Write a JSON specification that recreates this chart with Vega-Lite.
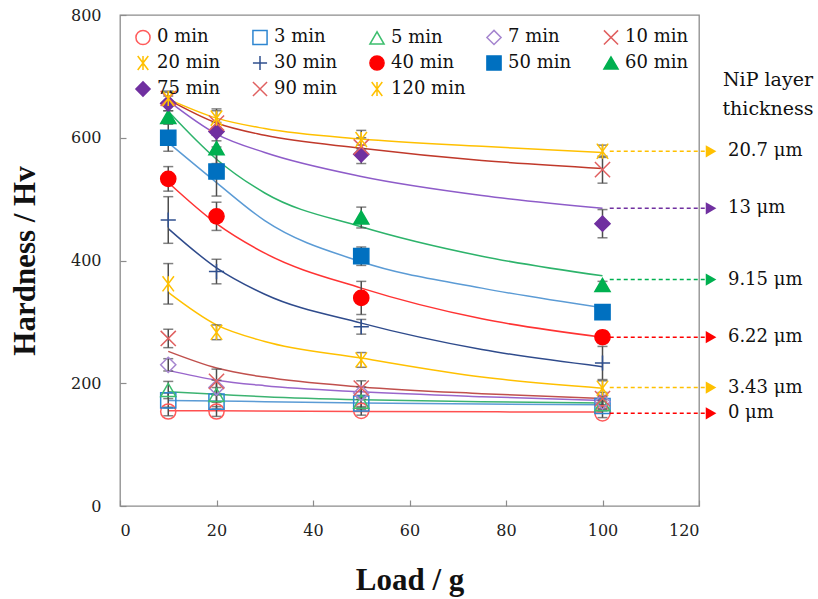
{
  "$schema": "https://vega.github.io/schema/vega-lite/v6.json",
  "width": 579,
  "height": 491,
  "autosize": {"type": "none"},
  "padding": {"left": 120, "top": 15, "right": 119, "bottom": 93},
  "background": "white",
  "config": {
    "font": "DejaVu Serif",
    "view": {"stroke": "#8c8c8c", "strokeWidth": 1.3},
    "axis": {
      "domain": false, "grid": false, "tickColor": "#8c8c8c", "tickSize": -6, "tickWidth": 1.2,
      "labelFont": "DejaVu Serif", "labelFontSize": 16, "labelColor": "#222222",
      "titleFont": "Liberation Serif", "titleFontSize": 31, "titleFontWeight": "bold", "titleColor": "#111111"
    },
    "axisX": {"labelPadding": 22, "titleX": 289.5, "titleY": 74, "titleBaseline": "middle", "titleAlign": "center"},
    "axisY": {"labelPadding": 25, "titleX": -95, "titleY": 245.5, "titleBaseline": "middle", "titleAlign": "center", "titleAngle": -90},
    "legend": {
      "labelFont": "DejaVu Serif", "labelFontSize": 18, "labelColor": "#111111",
      "symbolSize": 200, "symbolStrokeWidth": 1.5, "labelOffset": 5, "padding": 0
    }
  },
  "datasets": {
    "pts": [
      {"s": "0 min", "load": 10, "hv": 154, "lo": 147, "hi": 161},
      {"s": "0 min", "load": 20, "hv": 154, "lo": 146, "hi": 162},
      {"s": "0 min", "load": 50, "hv": 155, "lo": 148, "hi": 162},
      {"s": "0 min", "load": 100, "hv": 151, "lo": 144, "hi": 158},
      {"s": "3 min", "load": 10, "hv": 172, "lo": 160, "hi": 184},
      {"s": "3 min", "load": 20, "hv": 170, "lo": 158, "hi": 182},
      {"s": "3 min", "load": 50, "hv": 167, "lo": 157, "hi": 177},
      {"s": "3 min", "load": 100, "hv": 163, "lo": 155, "hi": 171},
      {"s": "5 min", "load": 10, "hv": 189, "lo": 175, "hi": 203},
      {"s": "5 min", "load": 20, "hv": 181, "lo": 169, "hi": 193},
      {"s": "5 min", "load": 50, "hv": 170, "lo": 160, "hi": 180},
      {"s": "5 min", "load": 100, "hv": 166, "lo": 158, "hi": 174},
      {"s": "7 min", "load": 10, "hv": 230, "lo": 220, "hi": 240},
      {"s": "7 min", "load": 20, "hv": 193, "lo": 181, "hi": 205},
      {"s": "7 min", "load": 50, "hv": 184, "lo": 174, "hi": 194},
      {"s": "7 min", "load": 100, "hv": 170, "lo": 162, "hi": 178},
      {"s": "10 min", "load": 10, "hv": 273, "lo": 258, "hi": 288},
      {"s": "10 min", "load": 20, "hv": 203, "lo": 183, "hi": 223},
      {"s": "10 min", "load": 50, "hv": 192, "lo": 180, "hi": 204},
      {"s": "10 min", "load": 100, "hv": 175, "lo": 165, "hi": 185},
      {"s": "20 min", "load": 10, "hv": 362, "lo": 329, "hi": 395},
      {"s": "20 min", "load": 20, "hv": 283, "lo": 271, "hi": 295},
      {"s": "20 min", "load": 50, "hv": 238, "lo": 226, "hi": 250},
      {"s": "20 min", "load": 100, "hv": 192, "lo": 180, "hi": 204},
      {"s": "30 min", "load": 10, "hv": 466, "lo": 428, "hi": 504},
      {"s": "30 min", "load": 20, "hv": 382, "lo": 362, "hi": 402},
      {"s": "30 min", "load": 50, "hv": 292, "lo": 280, "hi": 304},
      {"s": "30 min", "load": 100, "hv": 233, "lo": 206, "hi": 260},
      {"s": "40 min", "load": 10, "hv": 533, "lo": 513, "hi": 553},
      {"s": "40 min", "load": 20, "hv": 472, "lo": 449, "hi": 495},
      {"s": "40 min", "load": 50, "hv": 339, "lo": 312, "hi": 366},
      {"s": "40 min", "load": 100, "hv": 275, "lo": 265, "hi": 285},
      {"s": "50 min", "load": 10, "hv": 600, "lo": 578, "hi": 622},
      {"s": "50 min", "load": 20, "hv": 545, "lo": 505, "hi": 585},
      {"s": "50 min", "load": 50, "hv": 407, "lo": 392, "hi": 422},
      {"s": "50 min", "load": 100, "hv": 316, "lo": 310, "hi": 322},
      {"s": "60 min", "load": 10, "hv": 634, "lo": 624, "hi": 644},
      {"s": "60 min", "load": 20, "hv": 583, "lo": 558, "hi": 608},
      {"s": "60 min", "load": 50, "hv": 470, "lo": 453, "hi": 487},
      {"s": "60 min", "load": 100, "hv": 360, "lo": 354, "hi": 366},
      {"s": "75 min", "load": 10, "hv": 656, "lo": 644, "hi": 668},
      {"s": "75 min", "load": 20, "hv": 610, "lo": 595, "hi": 625},
      {"s": "75 min", "load": 50, "hv": 573, "lo": 558, "hi": 588},
      {"s": "75 min", "load": 100, "hv": 460, "lo": 437, "hi": 483},
      {"s": "90 min", "load": 10, "hv": 664, "lo": 654, "hi": 674},
      {"s": "90 min", "load": 20, "hv": 624, "lo": 604, "hi": 644},
      {"s": "90 min", "load": 50, "hv": 585, "lo": 570, "hi": 600},
      {"s": "90 min", "load": 100, "hv": 548, "lo": 526, "hi": 570},
      {"s": "120 min", "load": 10, "hv": 664, "lo": 652, "hi": 676},
      {"s": "120 min", "load": 20, "hv": 632, "lo": 617, "hi": 647},
      {"s": "120 min", "load": 50, "hv": 597, "lo": 582, "hi": 612},
      {"s": "120 min", "load": 100, "hv": 578, "lo": 568, "hi": 588}
    ],
    "fit": [
      {"s": "0 min", "load": 10, "hv": 155}, {"s": "0 min", "load": 20, "hv": 155}, {"s": "0 min", "load": 50, "hv": 154}, {"s": "0 min", "load": 100, "hv": 153},
      {"s": "3 min", "load": 10, "hv": 172}, {"s": "3 min", "load": 20, "hv": 171}, {"s": "3 min", "load": 30, "hv": 170}, {"s": "3 min", "load": 50, "hv": 168}, {"s": "3 min", "load": 75, "hv": 166}, {"s": "3 min", "load": 100, "hv": 165},
      {"s": "5 min", "load": 10, "hv": 186}, {"s": "5 min", "load": 20, "hv": 182}, {"s": "5 min", "load": 30, "hv": 178}, {"s": "5 min", "load": 50, "hv": 173}, {"s": "5 min", "load": 75, "hv": 170}, {"s": "5 min", "load": 100, "hv": 168},
      {"s": "7 min", "load": 10, "hv": 221}, {"s": "7 min", "load": 20, "hv": 205}, {"s": "7 min", "load": 30, "hv": 196}, {"s": "7 min", "load": 50, "hv": 186}, {"s": "7 min", "load": 75, "hv": 178}, {"s": "7 min", "load": 100, "hv": 172},
      {"s": "10 min", "load": 10, "hv": 252}, {"s": "10 min", "load": 20, "hv": 225}, {"s": "10 min", "load": 30, "hv": 210}, {"s": "10 min", "load": 50, "hv": 194}, {"s": "10 min", "load": 75, "hv": 183}, {"s": "10 min", "load": 100, "hv": 175},
      {"s": "20 min", "load": 10, "hv": 348}, {"s": "20 min", "load": 20, "hv": 295}, {"s": "20 min", "load": 30, "hv": 268}, {"s": "20 min", "load": 50, "hv": 241}, {"s": "20 min", "load": 75, "hv": 210}, {"s": "20 min", "load": 100, "hv": 192},
      {"s": "30 min", "load": 10, "hv": 452}, {"s": "30 min", "load": 20, "hv": 388}, {"s": "30 min", "load": 30, "hv": 345}, {"s": "30 min", "load": 50, "hv": 298}, {"s": "30 min", "load": 75, "hv": 255}, {"s": "30 min", "load": 100, "hv": 227},
      {"s": "40 min", "load": 10, "hv": 527}, {"s": "40 min", "load": 20, "hv": 460}, {"s": "40 min", "load": 30, "hv": 412}, {"s": "40 min", "load": 50, "hv": 355}, {"s": "40 min", "load": 75, "hv": 305}, {"s": "40 min", "load": 100, "hv": 275},
      {"s": "50 min", "load": 10, "hv": 592}, {"s": "50 min", "load": 20, "hv": 527}, {"s": "50 min", "load": 30, "hv": 465}, {"s": "50 min", "load": 50, "hv": 398}, {"s": "50 min", "load": 75, "hv": 355}, {"s": "50 min", "load": 100, "hv": 323},
      {"s": "60 min", "load": 10, "hv": 643}, {"s": "60 min", "load": 20, "hv": 565}, {"s": "60 min", "load": 30, "hv": 510}, {"s": "60 min", "load": 50, "hv": 455}, {"s": "60 min", "load": 75, "hv": 407}, {"s": "60 min", "load": 100, "hv": 375},
      {"s": "75 min", "load": 10, "hv": 660}, {"s": "75 min", "load": 20, "hv": 606}, {"s": "75 min", "load": 30, "hv": 576}, {"s": "75 min", "load": 50, "hv": 537}, {"s": "75 min", "load": 75, "hv": 506}, {"s": "75 min", "load": 100, "hv": 485},
      {"s": "90 min", "load": 10, "hv": 662}, {"s": "90 min", "load": 20, "hv": 624}, {"s": "90 min", "load": 30, "hv": 604}, {"s": "90 min", "load": 50, "hv": 583}, {"s": "90 min", "load": 75, "hv": 563}, {"s": "90 min", "load": 100, "hv": 550},
      {"s": "120 min", "load": 10, "hv": 663}, {"s": "120 min", "load": 20, "hv": 632}, {"s": "120 min", "load": 30, "hv": 615}, {"s": "120 min", "load": 50, "hv": 598}, {"s": "120 min", "load": 75, "hv": 586}, {"s": "120 min", "load": 100, "hv": 576}
    ],
    "arrows": [
      {"lab": "20.7 μm", "hv": 578, "x0": 101.5, "x1": 122.5, "xt": 126},
      {"lab": "13 μm", "hv": 485, "x0": 101.5, "x1": 122.5, "xt": 126},
      {"lab": "9.15 μm", "hv": 369, "x0": 101.5, "x1": 122.5, "xt": 126},
      {"lab": "6.22 μm", "hv": 275, "x0": 101.5, "x1": 122.5, "xt": 126},
      {"lab": "3.43 μm", "hv": 193, "x0": 101.5, "x1": 122.5, "xt": 126},
      {"lab": "0 μm", "hv": 151, "x0": 101.5, "x1": 122.5, "xt": 126}
    ],
    "head": [
      {"t": "NiP layer", "x": 134.3, "hv": 694},
      {"t": "thickness", "x": 134.3, "hv": 647}
    ]
  },
  "layer": [
    {
      "data": {"name": "fit"},
      "mark": {"type": "line", "interpolate": "monotone", "strokeWidth": 1.5},
      "encoding": {
        "x": {"field": "load", "type": "quantitative", "title": "Load / g", "scale": {"domain": [0, 120]}, "axis": {"values": [0, 20, 40, 60, 80, 100, 120]}},
        "y": {"field": "hv", "type": "quantitative", "title": "Hardness / Hv", "scale": {"domain": [0, 800]}, "axis": {"values": [0, 200, 400, 600, 800]}},
        "color": {
          "field": "s", "type": "nominal", "legend": null,
          "scale": {
            "domain": ["0 min", "3 min", "5 min", "7 min", "10 min", "20 min", "30 min", "40 min", "50 min", "60 min", "75 min", "90 min", "120 min"],
            "range": ["#FF5050", "#5B9BD5", "#3CB371", "#9966CC", "#C0504D", "#FFC000", "#2F4B8C", "#FF3333", "#5B9BD5", "#2DB36B", "#8E5CC9", "#C0392B", "#FFC000"]
          }
        }
      }
    },
    {
      "data": {"name": "pts"},
      "mark": {"type": "errorbar", "ticks": {"size": 10, "color": "#4d4d4d", "thickness": 1.5}, "rule": {"color": "#4d4d4d", "strokeWidth": 1.5}},
      "encoding": {
        "x": {"field": "load", "type": "quantitative", "title": "Load / g"},
        "y": {"field": "lo", "type": "quantitative", "title": "Hardness / Hv"},
        "y2": {"field": "hi"}
      }
    },
    {
      "data": {"name": "pts"},
      "mark": {"type": "point", "filled": true, "size": 230, "strokeWidth": 1.5, "opacity": 1},
      "encoding": {
        "x": {"field": "load", "type": "quantitative", "title": "Load / g"},
        "y": {"field": "hv", "type": "quantitative", "title": "Hardness / Hv"},
        "stroke": {
          "field": "s", "type": "nominal",
          "legend": {"title": null, "orient": "none", "legendX": 14, "legendY": 13, "direction": "horizontal", "columns": 5, "gridAlign": "all", "columnPadding": 17, "rowPadding": 4},
          "scale": {
            "domain": ["0 min", "3 min", "5 min", "7 min", "10 min", "20 min", "30 min", "40 min", "50 min", "60 min", "75 min", "90 min", "120 min"],
            "range": ["#FF5B5B", "#2E86D1", "#3DBE6E", "#A585CF", "#E06060", "#FFC000", "#30508F", "#FF0000", "#0070C0", "#00B050", "#7030A0", "#E06060", "#FFC000"]
          }
        },
        "fill": {
          "field": "s", "type": "nominal",
          "legend": {"title": null, "orient": "none", "legendX": 14, "legendY": 13, "direction": "horizontal", "columns": 5, "gridAlign": "all", "columnPadding": 17, "rowPadding": 4},
          "scale": {
            "domain": ["0 min", "3 min", "5 min", "7 min", "10 min", "20 min", "30 min", "40 min", "50 min", "60 min", "75 min", "90 min", "120 min"],
            "range": ["transparent", "transparent", "transparent", "transparent", "transparent", "transparent", "transparent", "#FF0000", "#0070C0", "#00B050", "#7030A0", "transparent", "transparent"]
          }
        },
        "shape": {
          "field": "s", "type": "nominal",
          "legend": {"title": null, "orient": "none", "legendX": 14, "legendY": 13, "direction": "horizontal", "columns": 5, "gridAlign": "all", "columnPadding": 17, "rowPadding": 4},
          "scale": {
            "domain": ["0 min", "3 min", "5 min", "7 min", "10 min", "20 min", "30 min", "40 min", "50 min", "60 min", "75 min", "90 min", "120 min"],
            "range": ["circle", "square", "triangle-up", "diamond", "M-1,-1L1,1M-1,1L1,-1", "M-0.75,-1L0.75,1M-0.75,1L0.75,-1M0,-1L0,1", "M-1,0L1,0M0,-1L0,1", "circle", "square", "triangle-up", "diamond", "M-1,-1L1,1M-1,1L1,-1", "M-0.75,-1L0.75,1M-0.75,1L0.75,-1M0,-1L0,1"]
          }
        }
      }
    },
    {
      "data": {"name": "arrows"},
      "layer": [
        {
          "mark": {"type": "rule", "strokeDash": [4, 3], "strokeWidth": 1.5},
          "encoding": {
            "x": {"field": "x0", "type": "quantitative", "title": "Load / g"},
            "x2": {"field": "x1"},
            "y": {"field": "hv", "type": "quantitative", "title": "Hardness / Hv"},
            "color": {"field": "lab", "type": "nominal", "legend": null, "scale": {"domain": ["20.7 μm", "13 μm", "9.15 μm", "6.22 μm", "3.43 μm", "0 μm"], "range": ["#FFC000", "#7030A0", "#00B050", "#FF0000", "#FFC000", "#FF0000"]}}
          }
        },
        {
          "mark": {"type": "point", "shape": "triangle-right", "filled": true, "size": 150, "opacity": 1},
          "encoding": {
            "x": {"field": "x1", "type": "quantitative", "title": "Load / g"},
            "y": {"field": "hv", "type": "quantitative", "title": "Hardness / Hv"},
            "color": {"field": "lab", "type": "nominal", "legend": null}
          }
        },
        {
          "mark": {"type": "text", "align": "left", "baseline": "middle", "fontSize": 18, "font": "DejaVu Serif", "color": "#111111"},
          "encoding": {
            "x": {"field": "xt", "type": "quantitative", "title": "Load / g"},
            "y": {"field": "hv", "type": "quantitative", "title": "Hardness / Hv"},
            "text": {"field": "lab"}
          }
        }
      ]
    },
    {
      "data": {"name": "head"},
      "mark": {"type": "text", "align": "center", "baseline": "middle", "fontSize": 19, "font": "DejaVu Serif", "color": "#111111"},
      "encoding": {
        "x": {"field": "x", "type": "quantitative", "title": "Load / g"},
        "y": {"field": "hv", "type": "quantitative", "title": "Hardness / Hv"},
        "text": {"field": "t"}
      }
    }
  ],
  "resolve": {"scale": {"color": "independent"}}
}
